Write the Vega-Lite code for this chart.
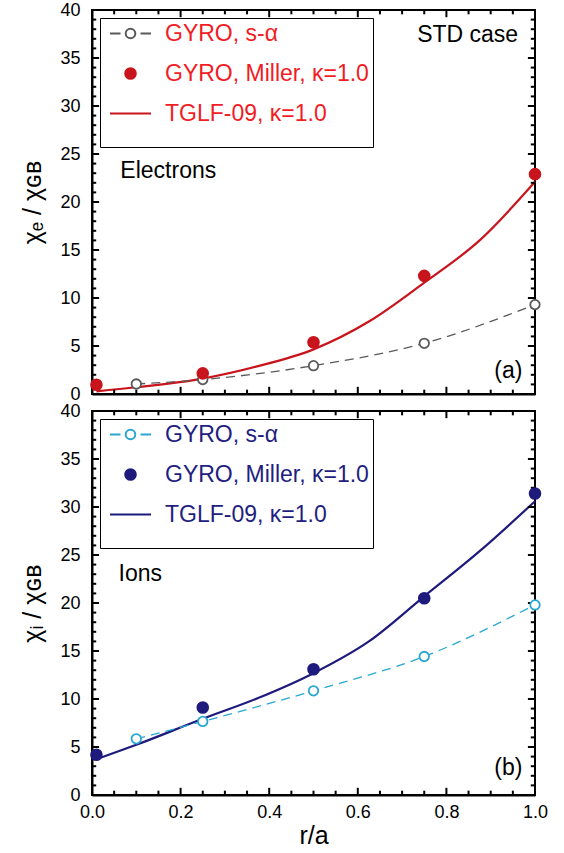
{
  "$schema": "https://vega.github.io/schema/vega-lite/v6.json",
  "padding": {"left": 19, "top": 0, "right": 0, "bottom": 0},
  "bounds": "flush",
  "spacing": 17,
  "datasets": {
    "xmaj": [{"v": 0}, {"v": 0.2}, {"v": 0.4}, {"v": 0.6}, {"v": 0.8}, {"v": 1.0}],
    "xmin": [{"v": 0.05}, {"v": 0.1}, {"v": 0.15}, {"v": 0.25}, {"v": 0.3}, {"v": 0.35}, {"v": 0.45}, {"v": 0.5}, {"v": 0.55}, {"v": 0.65}, {"v": 0.7}, {"v": 0.75}, {"v": 0.85}, {"v": 0.9}, {"v": 0.95}],
    "ymaj": [{"v": 0}, {"v": 5}, {"v": 10}, {"v": 15}, {"v": 20}, {"v": 25}, {"v": 30}, {"v": 35}, {"v": 40}],
    "ymin": [{"v": 1}, {"v": 2}, {"v": 3}, {"v": 4}, {"v": 6}, {"v": 7}, {"v": 8}, {"v": 9}, {"v": 11}, {"v": 12}, {"v": 13}, {"v": 14}, {"v": 16}, {"v": 17}, {"v": 18}, {"v": 19}, {"v": 21}, {"v": 22}, {"v": 23}, {"v": 24}, {"v": 26}, {"v": 27}, {"v": 28}, {"v": 29}, {"v": 31}, {"v": 32}, {"v": 33}, {"v": 34}, {"v": 36}, {"v": 37}, {"v": 38}, {"v": 39}],
    "a_tglf": [
      {"series": "TGLF-09, κ=1.0", "r": 0.01, "chi": 0.28},
      {"series": "TGLF-09, κ=1.0", "r": 0.1, "chi": 0.7},
      {"series": "TGLF-09, κ=1.0", "r": 0.25, "chi": 1.6},
      {"series": "TGLF-09, κ=1.0", "r": 0.375, "chi": 2.9},
      {"series": "TGLF-09, κ=1.0", "r": 0.5, "chi": 4.65},
      {"series": "TGLF-09, κ=1.0", "r": 0.625, "chi": 7.55},
      {"series": "TGLF-09, κ=1.0", "r": 0.75, "chi": 11.6},
      {"series": "TGLF-09, κ=1.0", "r": 0.875, "chi": 16.0},
      {"series": "TGLF-09, κ=1.0", "r": 1.0, "chi": 22.1}
    ],
    "a_salpha": [
      {"series": "GYRO, s-α", "r": 0.1, "chi": 1.04},
      {"series": "GYRO, s-α", "r": 0.25, "chi": 1.5},
      {"series": "GYRO, s-α", "r": 0.5, "chi": 2.95},
      {"series": "GYRO, s-α", "r": 0.75, "chi": 5.28},
      {"series": "GYRO, s-α", "r": 1.0, "chi": 9.31}
    ],
    "a_miller": [
      {"series": "GYRO, Miller, κ=1.0", "r": 0.01, "chi": 0.97},
      {"series": "GYRO, Miller, κ=1.0", "r": 0.25, "chi": 2.15},
      {"series": "GYRO, Miller, κ=1.0", "r": 0.5, "chi": 5.39},
      {"series": "GYRO, Miller, κ=1.0", "r": 0.75, "chi": 12.3},
      {"series": "GYRO, Miller, κ=1.0", "r": 1.0, "chi": 22.9}
    ],
    "a_text": [
      {"label": "STD case", "r": 0.734, "chi": 37.4},
      {"label": "Electrons", "r": 0.064, "chi": 23.2},
      {"label": "(a)", "r": 0.908, "chi": 2.4}
    ],
    "b_tglf": [
      {"series": "TGLF-09, κ=1.0", "r": 0.01, "chi": 3.73},
      {"series": "TGLF-09, κ=1.0", "r": 0.1, "chi": 5.23},
      {"series": "TGLF-09, κ=1.0", "r": 0.25, "chi": 7.94},
      {"series": "TGLF-09, κ=1.0", "r": 0.375, "chi": 10.1},
      {"series": "TGLF-09, κ=1.0", "r": 0.5, "chi": 12.69},
      {"series": "TGLF-09, κ=1.0", "r": 0.625, "chi": 16.0},
      {"series": "TGLF-09, κ=1.0", "r": 0.75, "chi": 20.7},
      {"series": "TGLF-09, κ=1.0", "r": 0.875, "chi": 25.4},
      {"series": "TGLF-09, κ=1.0", "r": 1.0, "chi": 30.6}
    ],
    "b_salpha": [
      {"series": "GYRO, s-α", "r": 0.1, "chi": 5.85},
      {"series": "GYRO, s-α", "r": 0.25, "chi": 7.66},
      {"series": "GYRO, s-α", "r": 0.5, "chi": 10.85},
      {"series": "GYRO, s-α", "r": 0.75, "chi": 14.43},
      {"series": "GYRO, s-α", "r": 1.0, "chi": 19.8}
    ],
    "b_miller": [
      {"series": "GYRO, Miller, κ=1.0", "r": 0.01, "chi": 4.19},
      {"series": "GYRO, Miller, κ=1.0", "r": 0.25, "chi": 9.11},
      {"series": "GYRO, Miller, κ=1.0", "r": 0.5, "chi": 13.1},
      {"series": "GYRO, Miller, κ=1.0", "r": 0.75, "chi": 20.5},
      {"series": "GYRO, Miller, κ=1.0", "r": 1.0, "chi": 31.4}
    ],
    "b_text": [
      {"label": "Ions", "r": 0.06, "chi": 23.0},
      {"label": "(b)", "r": 0.908, "chi": 2.8}
    ]
  },
  "vconcat": [
    {
      "width": 443,
      "height": 384,
      "layer": [
        {
          "data": {"name": "a_tglf"},
          "mark": {"type": "line", "interpolate": "monotone", "strokeWidth": 2.2, "color": "#c8141c"},
          "encoding": {
            "x": {"field": "r", "type": "quantitative", "scale": {"domain": [0, 1], "nice": false},
              "axis": {"orient": "bottom", "values": [0,0.2,0.4,0.6,0.8,1], "labels": false, "ticks": false, "title": null}},
            "y": {"field": "chi", "type": "quantitative", "scale": {"domain": [0, 40], "nice": false},
              "axis": {"orient": "left", "values": [0,5,10,15,20,25,30,35,40], "ticks": false, "labelPadding": 12, "title": "χₑ / χɢʙ", "titleFontSize": 25, "titlePadding": 14}}
          }
        },
        {"data": {"name": "xmaj"}, "mark": {"type": "rule", "strokeWidth": 2, "color": "black", "opacity": 1},
          "encoding": {"x": {"field": "v", "type": "quantitative"}, "y": {"datum": 0, "type": "quantitative"}, "y2": {"datum": 0.75}}},
        {"data": {"name": "xmin"}, "mark": {"type": "rule", "strokeWidth": 2, "color": "black", "opacity": 1},
          "encoding": {"x": {"field": "v", "type": "quantitative"}, "y": {"datum": 0, "type": "quantitative"}, "y2": {"datum": 0.45}}},
        {"data": {"name": "xmaj"}, "mark": {"type": "rule", "strokeWidth": 2, "color": "black", "opacity": 1},
          "encoding": {"x": {"field": "v", "type": "quantitative"}, "y": {"datum": 40, "type": "quantitative"}, "y2": {"datum": 39.25}}},
        {"data": {"name": "xmin"}, "mark": {"type": "rule", "strokeWidth": 2, "color": "black", "opacity": 1},
          "encoding": {"x": {"field": "v", "type": "quantitative"}, "y": {"datum": 40, "type": "quantitative"}, "y2": {"datum": 39.55}}},
        {"data": {"name": "ymaj"}, "mark": {"type": "rule", "strokeWidth": 2, "color": "black", "opacity": 1},
          "encoding": {"y": {"field": "v", "type": "quantitative"}, "x": {"datum": 0, "type": "quantitative"}, "x2": {"datum": 0.016}}},
        {"data": {"name": "ymin"}, "mark": {"type": "rule", "strokeWidth": 2, "color": "black", "opacity": 1},
          "encoding": {"y": {"field": "v", "type": "quantitative"}, "x": {"datum": 0, "type": "quantitative"}, "x2": {"datum": 0.0095}}},
        {"data": {"name": "ymaj"}, "mark": {"type": "rule", "strokeWidth": 2, "color": "black", "opacity": 1},
          "encoding": {"y": {"field": "v", "type": "quantitative"}, "x": {"datum": 1, "type": "quantitative"}, "x2": {"datum": 0.984}}},
        {"data": {"name": "ymin"}, "mark": {"type": "rule", "strokeWidth": 2, "color": "black", "opacity": 1},
          "encoding": {"y": {"field": "v", "type": "quantitative"}, "x": {"datum": 1, "type": "quantitative"}, "x2": {"datum": 0.9905}}},
        {
          "data": {"name": "a_salpha"},
          "mark": {"type": "line", "interpolate": "monotone", "strokeWidth": 1.3, "strokeDash": [9, 6], "color": "#5a5a5a"},
          "encoding": {
            "x": {"field": "r", "type": "quantitative"},
            "y": {"field": "chi", "type": "quantitative"}
          }
        },
        {
          "data": {"name": "a_salpha"},
          "mark": {"type": "point", "shape": "circle", "filled": false, "fill": "white", "stroke": "#5a5a5a", "size": 90, "strokeWidth": 1.8, "opacity": 1},
          "encoding": {
            "x": {"field": "r", "type": "quantitative"},
            "y": {"field": "chi", "type": "quantitative"}
          }
        },
        {
          "data": {"name": "a_miller"},
          "mark": {"type": "point", "size": 400, "strokeWidth": 2, "opacity": 1},
          "encoding": {
            "x": {"field": "r", "type": "quantitative"},
            "y": {"field": "chi", "type": "quantitative"},
            "fill": {"field": "series", "type": "nominal",
              "scale": {"domain": ["GYRO, s-α", "GYRO, Miller, κ=1.0", "TGLF-09, κ=1.0"], "range": ["white", "#c8141c", "transparent"]},
              "legend": {
                "orient": "top-left", "offset": 8, "padding": 4,
                "title": "\u00a0\u00a0\u00a0\u00a0\u00a0\u00a0\u00a0\u00a0\u00a0\u00a0\u00a0\u00a0\u00a0\u00a0\u00a0\u00a0\u00a0\u00a0\u00a0\u00a0\u00a0\u00a0\u00a0\u00a0\u00a0\u00a0\u00a0\u00a0\u00a0\u00a0\u00a0\u00a0\u00a0\u00a0\u00a0\u00a0\u00a0\u00a0\u00a0\u00a0\u00a0\u00a0\u00a0\u00a0\u00a0\u00a0\u00a0\u00a0\u00a0\u00a0\u00a0\u00a0\u00a0\u00a0\u00a0\u00a0\u00a0\u00a0\u00a0\u00a0\u00a0\u00a0\u00a0\u00a0\u00a0\u00a0\u00a0\u00a0\u00a0\u00a0\u00a0\u00a0\u00a0\u00a0\u00a0\u00a0\u00a0\u00a0\u00a0\u00a0\u00a0\u00a0\u00a0\u00a0\u00a0\u00a0\u00a0\u00a0\u00a0\u00a0\u00a0\u00a0\u00a0\u00a0\u00a0\u00a0",
                "titleOrient": "bottom", "titleFontSize": 11, "titlePadding": 6, "titleLimit": 600,
                "labelFont": "Liberation Sans", "labelFontSize": 23, "labelColor": "#f21c24", "labelLimit": 500, "labelOffset": 23,
                "symbolSize": 400, "symbolOffset": 15, "symbolStrokeWidth": 2, "symbolOpacity": 1, "rowPadding": 16,
                "strokeColor": "black", "fillColor": "white"
              }},
            "stroke": {"field": "series", "type": "nominal",
              "scale": {"domain": ["GYRO, s-α", "GYRO, Miller, κ=1.0", "TGLF-09, κ=1.0"], "range": ["#5a5a5a", "#c8141c", "#c8141c"]}},
            "shape": {"field": "series", "type": "nominal",
              "scale": {"domain": ["GYRO, s-α", "GYRO, Miller, κ=1.0", "TGLF-09, κ=1.0"], "range": ["M-2.05,0H-1M1,0H2.05M0.48,0A0.48,0.48,0,1,1,-0.48,0A0.48,0.48,0,1,1,0.48,0", "M0.53,0A0.53,0.53,0,1,1,-0.53,0A0.53,0.53,0,1,1,0.53,0", "M-2.05,0H2.05"]}}
          }
        },
        {
          "data": {"name": "a_text"},
          "mark": {"type": "text", "align": "left", "baseline": "middle", "fontSize": 23, "font": "Liberation Sans", "color": "black"},
          "encoding": {
            "x": {"field": "r", "type": "quantitative"},
            "y": {"field": "chi", "type": "quantitative"},
            "text": {"field": "label"}
          }
        }
      ]
    },
    {
      "width": 443,
      "height": 384,
      "layer": [
        {
          "data": {"name": "b_tglf"},
          "mark": {"type": "line", "interpolate": "monotone", "strokeWidth": 2.2, "color": "#1f1b7d"},
          "encoding": {
            "x": {"field": "r", "type": "quantitative", "scale": {"domain": [0, 1], "nice": false},
              "axis": {"orient": "bottom", "values": [0,0.2,0.4,0.6,0.8,1], "format": ".1f", "ticks": false, "labelPadding": 8, "title": "r/a", "titleFontSize": 25, "titlePadding": 2}},
            "y": {"field": "chi", "type": "quantitative", "scale": {"domain": [0, 40], "nice": false},
              "axis": {"orient": "left", "values": [0,5,10,15,20,25,30,35,40], "ticks": false, "labelPadding": 12, "title": "χᵢ / χɢʙ", "titleFontSize": 25, "titlePadding": 14}}
          }
        },
        {"data": {"name": "xmaj"}, "mark": {"type": "rule", "strokeWidth": 2, "color": "black", "opacity": 1},
          "encoding": {"x": {"field": "v", "type": "quantitative"}, "y": {"datum": 0, "type": "quantitative"}, "y2": {"datum": 0.75}}},
        {"data": {"name": "xmin"}, "mark": {"type": "rule", "strokeWidth": 2, "color": "black", "opacity": 1},
          "encoding": {"x": {"field": "v", "type": "quantitative"}, "y": {"datum": 0, "type": "quantitative"}, "y2": {"datum": 0.45}}},
        {"data": {"name": "xmaj"}, "mark": {"type": "rule", "strokeWidth": 2, "color": "black", "opacity": 1},
          "encoding": {"x": {"field": "v", "type": "quantitative"}, "y": {"datum": 40, "type": "quantitative"}, "y2": {"datum": 39.25}}},
        {"data": {"name": "xmin"}, "mark": {"type": "rule", "strokeWidth": 2, "color": "black", "opacity": 1},
          "encoding": {"x": {"field": "v", "type": "quantitative"}, "y": {"datum": 40, "type": "quantitative"}, "y2": {"datum": 39.55}}},
        {"data": {"name": "ymaj"}, "mark": {"type": "rule", "strokeWidth": 2, "color": "black", "opacity": 1},
          "encoding": {"y": {"field": "v", "type": "quantitative"}, "x": {"datum": 0, "type": "quantitative"}, "x2": {"datum": 0.016}}},
        {"data": {"name": "ymin"}, "mark": {"type": "rule", "strokeWidth": 2, "color": "black", "opacity": 1},
          "encoding": {"y": {"field": "v", "type": "quantitative"}, "x": {"datum": 0, "type": "quantitative"}, "x2": {"datum": 0.0095}}},
        {"data": {"name": "ymaj"}, "mark": {"type": "rule", "strokeWidth": 2, "color": "black", "opacity": 1},
          "encoding": {"y": {"field": "v", "type": "quantitative"}, "x": {"datum": 1, "type": "quantitative"}, "x2": {"datum": 0.984}}},
        {"data": {"name": "ymin"}, "mark": {"type": "rule", "strokeWidth": 2, "color": "black", "opacity": 1},
          "encoding": {"y": {"field": "v", "type": "quantitative"}, "x": {"datum": 1, "type": "quantitative"}, "x2": {"datum": 0.9905}}},
        {
          "data": {"name": "b_salpha"},
          "mark": {"type": "line", "interpolate": "monotone", "strokeWidth": 1.3, "strokeDash": [9, 6], "color": "#29a7d1"},
          "encoding": {
            "x": {"field": "r", "type": "quantitative"},
            "y": {"field": "chi", "type": "quantitative"}
          }
        },
        {
          "data": {"name": "b_salpha"},
          "mark": {"type": "point", "shape": "circle", "filled": false, "fill": "white", "stroke": "#29a7d1", "size": 90, "strokeWidth": 1.8, "opacity": 1},
          "encoding": {
            "x": {"field": "r", "type": "quantitative"},
            "y": {"field": "chi", "type": "quantitative"}
          }
        },
        {
          "data": {"name": "b_miller"},
          "mark": {"type": "point", "size": 400, "strokeWidth": 2, "opacity": 1},
          "encoding": {
            "x": {"field": "r", "type": "quantitative"},
            "y": {"field": "chi", "type": "quantitative"},
            "fill": {"field": "series", "type": "nominal",
              "scale": {"domain": ["GYRO, s-α", "GYRO, Miller, κ=1.0", "TGLF-09, κ=1.0"], "range": ["white", "#1f1b7d", "transparent"]},
              "legend": {
                "orient": "top-left", "offset": 8, "padding": 4,
                "title": "\u00a0\u00a0\u00a0\u00a0\u00a0\u00a0\u00a0\u00a0\u00a0\u00a0\u00a0\u00a0\u00a0\u00a0\u00a0\u00a0\u00a0\u00a0\u00a0\u00a0\u00a0\u00a0\u00a0\u00a0\u00a0\u00a0\u00a0\u00a0\u00a0\u00a0\u00a0\u00a0\u00a0\u00a0\u00a0\u00a0\u00a0\u00a0\u00a0\u00a0\u00a0\u00a0\u00a0\u00a0\u00a0\u00a0\u00a0\u00a0\u00a0\u00a0\u00a0\u00a0\u00a0\u00a0\u00a0\u00a0\u00a0\u00a0\u00a0\u00a0\u00a0\u00a0\u00a0\u00a0\u00a0\u00a0\u00a0\u00a0\u00a0\u00a0\u00a0\u00a0\u00a0\u00a0\u00a0\u00a0\u00a0\u00a0\u00a0\u00a0\u00a0\u00a0\u00a0\u00a0\u00a0\u00a0\u00a0\u00a0\u00a0\u00a0\u00a0\u00a0\u00a0\u00a0\u00a0\u00a0",
                "titleOrient": "bottom", "titleFontSize": 11, "titlePadding": 6, "titleLimit": 600,
                "labelFont": "Liberation Sans", "labelFontSize": 23, "labelColor": "#221e80", "labelLimit": 500, "labelOffset": 23,
                "symbolSize": 400, "symbolOffset": 15, "symbolStrokeWidth": 2, "symbolOpacity": 1, "rowPadding": 16,
                "strokeColor": "black", "fillColor": "white"
              }},
            "stroke": {"field": "series", "type": "nominal",
              "scale": {"domain": ["GYRO, s-α", "GYRO, Miller, κ=1.0", "TGLF-09, κ=1.0"], "range": ["#29a7d1", "#1f1b7d", "#1f1b7d"]}},
            "shape": {"field": "series", "type": "nominal",
              "scale": {"domain": ["GYRO, s-α", "GYRO, Miller, κ=1.0", "TGLF-09, κ=1.0"], "range": ["M-2.05,0H-1M1,0H2.05M0.48,0A0.48,0.48,0,1,1,-0.48,0A0.48,0.48,0,1,1,0.48,0", "M0.53,0A0.53,0.53,0,1,1,-0.53,0A0.53,0.53,0,1,1,0.53,0", "M-2.05,0H2.05"]}}
          }
        },
        {
          "data": {"name": "b_text"},
          "mark": {"type": "text", "align": "left", "baseline": "middle", "fontSize": 23, "font": "Liberation Sans", "color": "black"},
          "encoding": {
            "x": {"field": "r", "type": "quantitative"},
            "y": {"field": "chi", "type": "quantitative"},
            "text": {"field": "label"}
          }
        }
      ]
    }
  ],
  "resolve": {"scale": {"fill": "independent", "stroke": "independent", "shape": "independent"}, "legend": {"fill": "independent", "stroke": "independent", "shape": "independent"}},
  "config": {
    "view": {"stroke": "black", "strokeWidth": 2},
    "font": "Liberation Sans",
    "axis": {
      "domainColor": "black", "domainWidth": 2,
      "labelFont": "Liberation Sans", "labelFontSize": 18, "labelColor": "black", "labelOverlap": false, "labelFlush": false,
      "titleFont": "Liberation Sans", "titleFontWeight": "normal", "titleColor": "black", "grid": false
    }
  }
}
